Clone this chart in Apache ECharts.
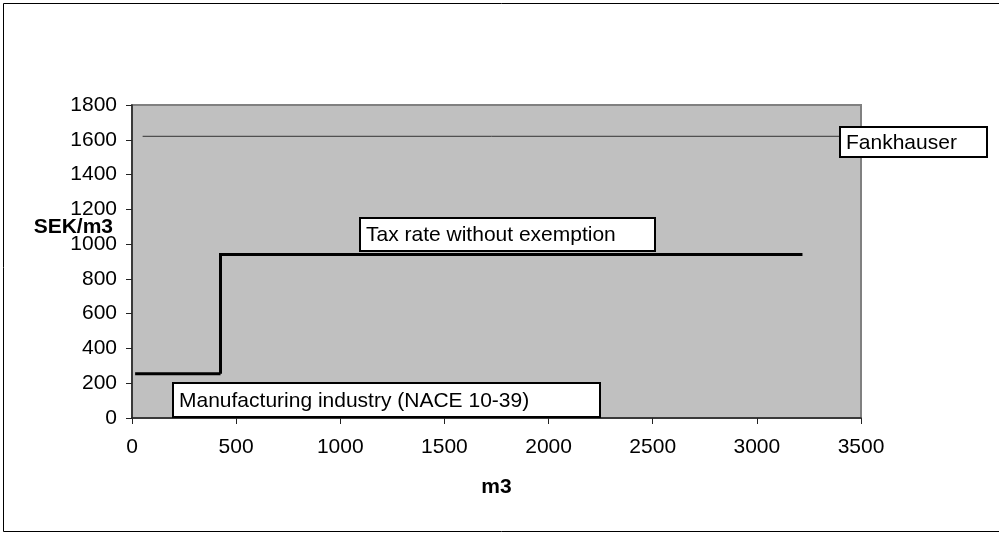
<!DOCTYPE html>
<html>
<head>
<meta charset="utf-8">
<script src="https://cdn.jsdelivr.net/npm/echarts@6/dist/echarts.min.js"></script>
<style>
html,body{margin:0;padding:0;background:#fff;}
#chart{width:999px;height:533px;}
</style>
</head>
<body>
<div id="chart"></div>
<script>
// ---- data ----
const xTicks = [0, 500, 1000, 1500, 2000, 2500, 3000, 3500];
const yTicks = [0, 200, 400, 600, 800, 1000, 1200, 1400, 1600, 1800];
const fankhauserX = [51, 3400];
const fankhauserY = [1620, 1620];
const manufacturingX = [15, 425];
const manufacturingY = [254, 254];
const taxRateX = [425, 425, 3219];
const taxRateY = [254, 940, 940];
const labelTexts = ['Fankhauser', 'Tax rate without exemption', 'Manufacturing industry (NACE 10-39)'];
const xName = 'm3';
const yName = 'SEK/m3';

const zip = (xs, ys) => xs.map((x, i) => [x, ys[i]]);
const FONT = '"Liberation Sans", Arial, sans-serif';
const FS = 21;

const chart = echarts.init(document.getElementById('chart'), null, {renderer: 'canvas'});

function box(x, y, w, h, text) {
  return {
    type: 'group',
    children: [
      {type: 'rect', shape: {x: x, y: y, width: w, height: h},
       style: {fill: '#fff', stroke: '#000', lineWidth: 2}, z: 100},
      {type: 'text', x: x + 6, y: y + h / 2 + 1,
       style: {text: text, font: FS + 'px ' + FONT, fill: '#000', textVerticalAlign: 'middle'}, z: 101}
    ]
  };
}

chart.setOption({
  animation: false,
  backgroundColor: '#fff',
  grid: {
    left: 132, right: 138, top: 105, bottom: 115,
    show: true, backgroundColor: '#c0c0c0', borderColor: '#808080', borderWidth: 2
  },
  xAxis: {
    type: 'value', min: xTicks[0], max: xTicks[xTicks.length - 1], interval: 500,
    name: xName, nameLocation: 'middle', nameGap: 59,
    nameTextStyle: {fontFamily: FONT, fontSize: FS, fontWeight: 'bold', color: '#000'},
    axisLine: {show: true, onZero: false, lineStyle: {color: '#222', width: 1.5}},
    axisTick: {show: true, inside: false, length: 6, lineStyle: {color: '#222', width: 1}},
    axisLabel: {fontFamily: FONT, fontSize: FS, color: '#000', margin: 19, formatter: v => String(v)},
    splitLine: {show: false}
  },
  yAxis: {
    type: 'value', min: yTicks[0], max: yTicks[yTicks.length - 1], interval: 200,
    axisLine: {show: true, onZero: false, lineStyle: {color: '#222', width: 1.5}},
    axisTick: {show: true, inside: false, length: 6, lineStyle: {color: '#222', width: 1}},
    axisLabel: {fontFamily: FONT, fontSize: FS, color: '#000', margin: 15, formatter: v => String(v)},
    splitLine: {show: false}
  },
  series: [
    {name: labelTexts[0], type: 'line', data: zip(fankhauserX, fankhauserY), symbol: 'none',
     lineStyle: {color: '#333', width: 1}},
    {name: labelTexts[2], type: 'line', data: zip(manufacturingX, manufacturingY), symbol: 'none',
     lineStyle: {color: '#000', width: 3}},
    {name: labelTexts[1], type: 'line', data: zip(taxRateX, taxRateY), symbol: 'none',
     lineStyle: {color: '#000', width: 3, join: 'miter'}}
  ],
  graphic: [
    {type: 'rect', shape: {x: 3.5, y: 3.5, width: 996, height: 528},
     style: {fill: 'none', stroke: '#000', lineWidth: 1}, z: 0, silent: true},
    {type: 'text', x: 113, y: 227,
     style: {text: yName, font: 'bold ' + FS + 'px ' + FONT, fill: '#000', textAlign: 'right', textVerticalAlign: 'middle'}, z: 50},
    box(840, 127, 147, 30, labelTexts[0]),
    box(360, 218, 295, 33, labelTexts[1]),
    box(173, 383, 427, 34, labelTexts[2])
  ]
});
</script>
</body>
</html>
